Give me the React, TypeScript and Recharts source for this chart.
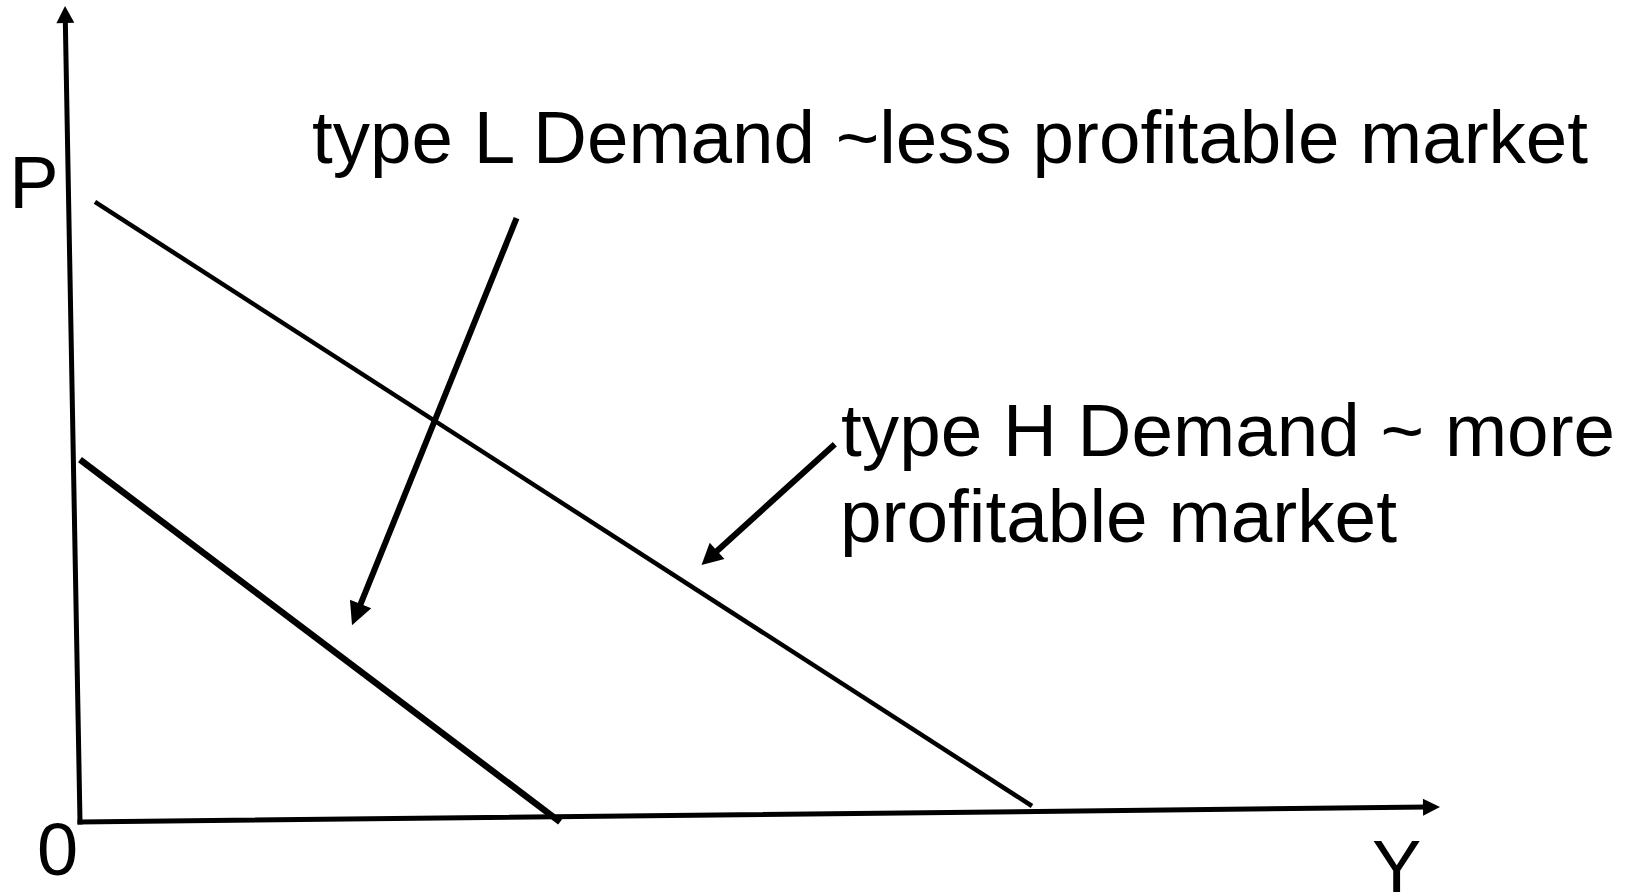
import React from "react";
import {
  LineChart,
  Line,
  XAxis,
  YAxis,
  ReferenceLine,
  ReferenceDot,
} from "recharts";

// quantity (Y) on the horizontal, price (P) on the vertical, arbitrary units
const demandL = [
  { q: 0, p: 44.4 },
  { q: 35.3, p: 0 },
];
const demandH = [
  { q: 1.1, p: 76.0 },
  { q: 70.0, p: 1.96 },
];

// hand-drawn axes, slightly skewed
const axisP = [
  { q: 0, p: 0 },
  { q: -1.1, p: 100 },
];
const axisY = [
  { q: 0, p: 0 },
  { q: 100, p: 1.84 },
];

// pointer arrows from the captions to the curves
const arrowL = [
  { q: 32.1, p: 74.0 },
  { q: 20.0, p: 24.1 },
];
const arrowH = [
  { q: 55.5, p: 46.3 },
  { q: 45.7, p: 31.5 },
];

const axisLabels = ["P", "0", "Y"];
const captionL = "type L Demand ~less profitable market";
const captionH = ["type H Demand ~ more", "profitable market"];

const FONT = "'Liberation Sans', Arial, Helvetica, sans-serif";

const seg = (pts: { q: number; p: number }[]) =>
  pts.map((d) => ({ x: d.q, y: d.p }));

const arrowShape = (head: number, width: number, cap = "butt") => (props: any) => {
  const { x1, y1, x2, y2, stroke, strokeWidth } = props;
  const dx = x2 - x1;
  const dy = y2 - y1;
  const len = Math.hypot(dx, dy) || 1;
  const ux = dx / len;
  const uy = dy / len;
  const bx = x2 - ux * head;
  const by = y2 - uy * head;
  const px = -uy * (width / 2);
  const py = ux * (width / 2);
  return (
    <g>
      <line
        x1={x1}
        y1={y1}
        x2={bx + ux * 2}
        y2={by + uy * 2}
        stroke={stroke}
        strokeWidth={strokeWidth}
        strokeLinecap={cap as any}
      />
      <polygon
        points={`${x2},${y2} ${bx + px},${by + py} ${bx - px},${by - py}`}
        fill={stroke}
      />
    </g>
  );
};

const textShape =
  (text: string, size: number, length?: number) => (props: any) =>
    (
      <text
        x={props.cx}
        y={props.cy}
        fontFamily={FONT}
        fontSize={size}
        fill="#000"
        textLength={length}
        lengthAdjust={length ? "spacingAndGlyphs" : undefined}
      >
        {text}
      </text>
    );

export default function App() {
  return (
    <div style={{ position: "absolute", left: 0, top: 0, background: "#fff" }}>
      <LineChart
        width={1633}
        height={894}
        margin={{ top: 6, right: 193, bottom: 72, left: 80 }}
      >
        <XAxis type="number" dataKey="q" domain={[0, 100]} hide />
        <YAxis type="number" dataKey="p" domain={[0, 100]} hide />

        <ReferenceLine
          segment={seg(axisP)}
          ifOverflow="visible"
          stroke="#000"
          strokeWidth={5}
          shape={arrowShape(17, 18, "square")}
        />
        <ReferenceLine
          segment={seg(axisY)}
          ifOverflow="visible"
          stroke="#000"
          strokeWidth={5}
          shape={arrowShape(17, 17, "square")}
        />

        <Line
          data={demandL}
          dataKey="p"
          type="linear"
          stroke="#000"
          strokeWidth={6.5}
          dot={false}
          isAnimationActive={false}
        />
        <Line
          data={demandH}
          dataKey="p"
          type="linear"
          stroke="#000"
          strokeWidth={4.5}
          dot={false}
          isAnimationActive={false}
        />

        <ReferenceLine
          segment={seg(arrowL)}
          ifOverflow="visible"
          stroke="#000"
          strokeWidth={6}
          shape={arrowShape(23, 23)}
        />
        <ReferenceLine
          segment={seg(arrowH)}
          ifOverflow="visible"
          stroke="#000"
          strokeWidth={6}
          shape={arrowShape(21, 22)}
        />

        <ReferenceDot
          x={-5.2}
          y={75.2}
          r={0}
          ifOverflow="visible"
          shape={textShape(axisLabels[0], 74)}
        />
        <ReferenceDot
          x={-3.16}
          y={-6.5}
          r={0}
          ifOverflow="visible"
          shape={textShape(axisLabels[1], 74)}
        />
        <ReferenceDot
          x={95.0}
          y={-8.58}
          r={0}
          ifOverflow="visible"
          shape={textShape(axisLabels[2], 74)}
        />

        <ReferenceDot
          x={17.06}
          y={80.76}
          r={0}
          ifOverflow="visible"
          shape={textShape(captionL, 74, 1276)}
        />
        <ReferenceDot
          x={55.96}
          y={44.85}
          r={0}
          ifOverflow="visible"
          shape={textShape(captionH[0], 74, 774)}
        />
        <ReferenceDot
          x={55.88}
          y={34.31}
          r={0}
          ifOverflow="visible"
          shape={textShape(captionH[1], 74, 557)}
        />
      </LineChart>
    </div>
  );
}
